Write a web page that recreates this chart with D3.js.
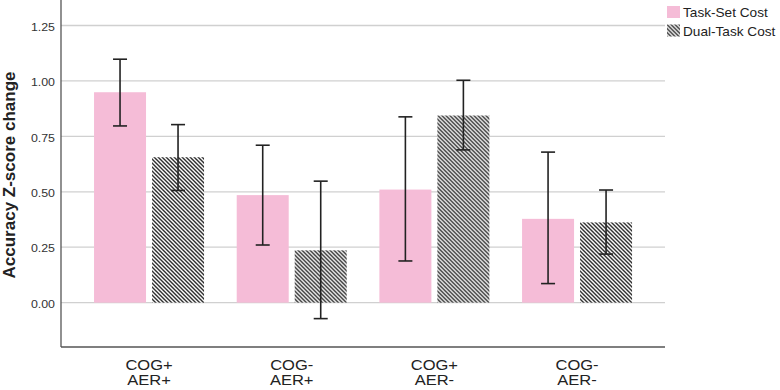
<!DOCTYPE html>
<html>
<head>
<meta charset="utf-8">
<script src="https://cdn.jsdelivr.net/npm/d3@7/dist/d3.min.js"></script>
<style>
  body { margin: 0; background: #fff; }
  text { font-family: "Liberation Sans", Arial, sans-serif; }
</style>
</head>
<body>
<div id="chart"></div>
<script>
// data
var groups = ["COG+\nAER+", "COG-\nAER+", "COG+\nAER-", "COG-\nAER-"];
var series = ["Task-Set Cost", "Dual-Task Cost"];
var taskSet = [0.949, 0.485, 0.510, 0.378];
var taskSetLo = [0.797, 0.260, 0.188, 0.086];
var taskSetHi = [1.098, 0.710, 0.838, 0.679];
var dualTask = [0.656, 0.236, 0.844, 0.362];
var dualTaskLo = [0.506, -0.072, 0.689, 0.219];
var dualTaskHi = [0.803, 0.548, 1.003, 0.508];
var yTicks = [0, 0.25, 0.5, 0.75, 1, 1.25];

var width = 780, height = 390;
var svg = d3.select("#chart").append("svg")
  .attr("width", width).attr("height", height);

var defs = svg.append("defs");
var pat = defs.append("pattern")
  .attr("id", "hatch")
  .attr("patternUnits", "userSpaceOnUse")
  .attr("width", 4).attr("height", 4);
pat.append("rect").attr("width", 4).attr("height", 4).attr("fill", "#fff");
pat.append("path")
  .attr("d", "M-1,-1 L5,5 M-1,3 L1,5 M3,-1 L5,1")
  .attr("stroke", "#2b2b2b").attr("stroke-width", 1.4);

var pink = "#f5bcd7";

var x = d3.scaleBand().domain(groups).range([77.7, 648.4]).paddingInner(0).paddingOuter(0);
var y = d3.scaleLinear().domain([-0.2, 1.365]).range([347, 0]);
var barW = 52, gap = 6;

// gridlines
svg.append("g").selectAll("line").data(yTicks).enter().append("line")
  .attr("x1", 61).attr("x2", 665)
  .attr("y1", d => y(d)).attr("y2", d => y(d))
  .attr("stroke", "#d0d0d0").attr("stroke-width", 1.3);

// y tick labels (text in the source looks a bit wide, so stretch it)
svg.append("g").selectAll("g").data(yTicks).enter().append("g")
  .attr("transform", d => "translate(55," + (y(d) + 1.5) + ") scale(1.18,1)")
  .append("text")
  .attr("dy", "0.35em")
  .attr("text-anchor", "end").attr("font-size", "10.5px").attr("fill", "#333")
  .text(d => d3.format(".2f")(d));

var rows = groups.map((g, i) => ({
  g: g,
  bars: [
    { s: 0, v: taskSet[i], lo: taskSetLo[i], hi: taskSetHi[i] },
    { s: 1, v: dualTask[i], lo: dualTaskLo[i], hi: dualTaskHi[i] }
  ]
}));

var gg = svg.append("g").selectAll("g").data(rows).enter().append("g")
  .attr("transform", d => "translate(" + (x(d.g) + x.bandwidth() / 2) + ",0)");

gg.selectAll("rect").data(d => d.bars).enter().append("rect")
  .attr("x", d => d.s === 0 ? -gap / 2 - barW : gap / 2)
  .attr("width", barW)
  .attr("y", d => y(Math.max(0, d.v)))
  .attr("height", d => Math.abs(y(d.v) - y(0)))
  .attr("fill", d => d.s === 0 ? pink : "url(#hatch)");

// error bars
var eb = gg.selectAll("g.err").data(d => d.bars).enter().append("g").attr("class", "err")
  .attr("transform", d => "translate(" + (d.s === 0 ? -gap / 2 - barW / 2 : gap / 2 + barW / 2) + ",0)")
  .attr("stroke", "#222").attr("stroke-width", 1.6);
eb.append("line").attr("x1", 0).attr("x2", 0)
  .attr("y1", d => y(d.hi)).attr("y2", d => y(d.lo));
eb.append("line").attr("x1", -7).attr("x2", 7)
  .attr("y1", d => y(d.hi)).attr("y2", d => y(d.hi));
eb.append("line").attr("x1", -7).attr("x2", 7)
  .attr("y1", d => y(d.lo)).attr("y2", d => y(d.lo));

// axes lines
svg.append("line").attr("x1", 61).attr("x2", 61).attr("y1", 0).attr("y2", 347)
  .attr("stroke", "#555").attr("stroke-width", 1.3);
svg.append("line").attr("x1", 61).attr("x2", 665).attr("y1", 347).attr("y2", 347)
  .attr("stroke", "#555").attr("stroke-width", 1.3);

// category labels
var cl = svg.append("g").selectAll("g").data(groups).enter().append("g")
  .attr("transform", d => "translate(" + (x(d) + x.bandwidth() / 2) + ",0) scale(1.18,1)")
  .append("text")
  .attr("text-anchor", "middle").attr("font-size", "14px").attr("fill", "#222");
cl.each(function (d) {
  var t = d3.select(this);
  d.split("\n").forEach(function (line, i) {
    t.append("tspan").attr("x", 0).attr("y", 370 + i * 14.5).text(line);
  });
});

// y axis title
svg.append("text")
  .attr("transform", "translate(15,175) rotate(-90)")
  .attr("text-anchor", "middle").attr("font-size", "17px").attr("font-weight", "bold")
  .attr("fill", "#222")
  .text("Accuracy Z-score change");

// legend
var legend = svg.append("g").selectAll("g").data(series).enter().append("g")
  .attr("transform", (d, i) => "translate(667," + (6 + i * 18.5) + ")");
legend.append("rect").attr("width", 13).attr("height", 12)
  .attr("fill", (d, i) => i === 0 ? pink : "url(#hatch)");
legend.append("g").attr("transform", "translate(16,7) scale(1.09,1)")
  .append("text").attr("dy", "0.35em")
  .attr("font-size", "12.5px").attr("fill", "#222").text(d => d);
</script>
</body>
</html>
